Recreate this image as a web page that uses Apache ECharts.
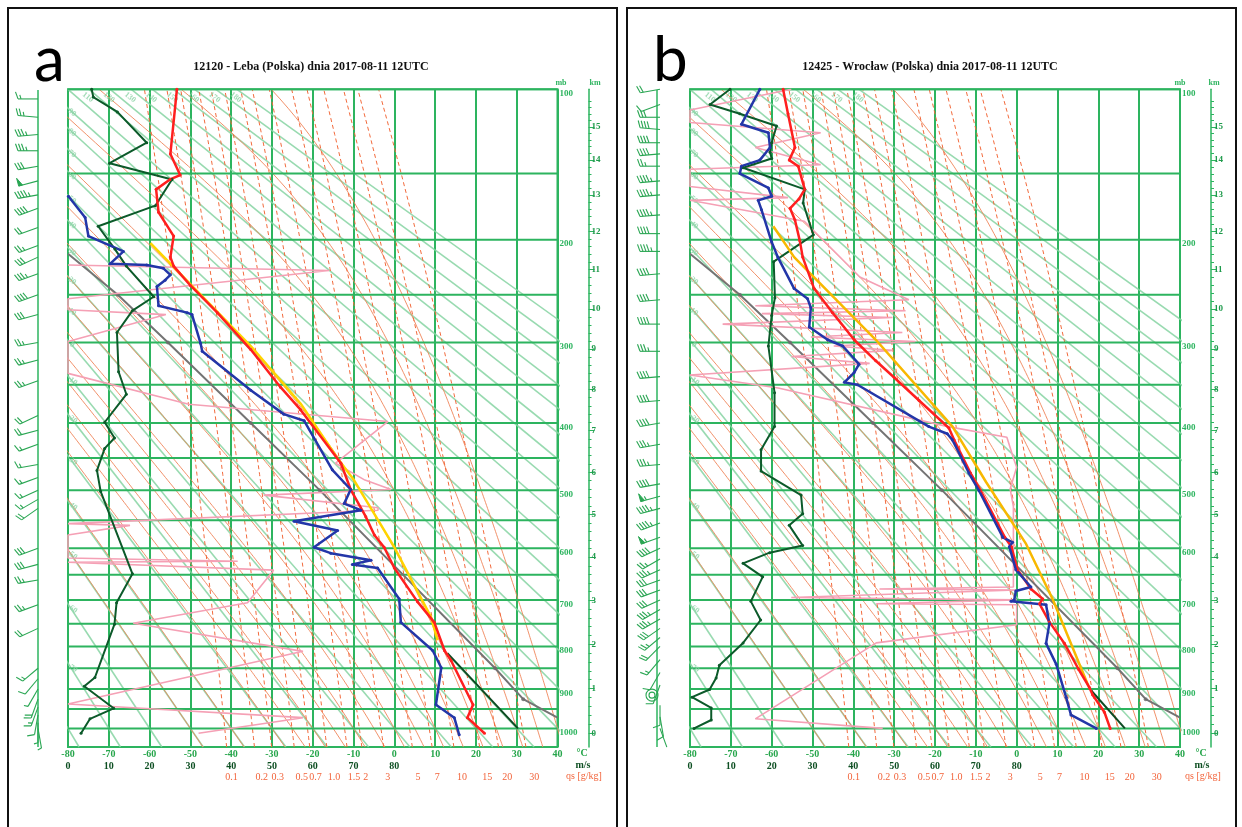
<!DOCTYPE html>
<html lang="pl">
<head>
<meta charset="UTF-8">
<title>Sondaże 2017-08-11 12UTC</title>
<script src="https://cdn.jsdelivr.net/npm/echarts@6.0.0/dist/echarts.min.js"></script>
<style>
  html, body { margin: 0; padding: 0; background: #fff; }
  #main { width: 1242px; height: 827px; }
</style>
</head>
<body>
<div id="main"></div>
<script>
// ---- diagram scales and tick labels
var isobarLevels = [100, 150, 200, 250, 300, 350, 400, 450, 500, 550, 600, 650, 700, 750, 800, 850, 900, 950, 1000];
var mbLabels = [100, 200, 300, 400, 500, 600, 700, 800, 900, 1000];
var kmLabels = [0, 1, 2, 3, 4, 5, 6, 7, 8, 9, 10, 11, 12, 13, 14, 15];
var windLabels = [0, 10, 20, 30, 40, 50, 60, 70, 80];
var qsLabels = ['0.1', '0.2', '0.3', '0.5', '0.7', '1.0', '1.5', '2', '3', '5', '7', '10', '15', '20', '30'];
var qsLabelTemp = [-39.9, -32.5, -28.6, -22.7, -19.3, -14.8, -9.9, -7.0, -1.6, 5.8, 10.5, 16.6, 22.8, 27.7, 34.3];
var mixingRatios = [0.1, 0.2, 0.3, 0.5, 0.7, 1, 1.5, 2, 3, 5, 7, 10, 15, 20, 30];
var moistStart = [-50, -40, -30, -25, -20, -15, -10, -5, 0, 5, 10, 15, 20, 25, 30, 35, 40];
var dryThetaTopLabels = [110, 120, 130, 140, 150, 160, 170, 180];
var dryThetaLeftLabels = [90, 80, 70, 60, 50, 40, 30, 20, 10, 0, -10, -20, -30, -40, -50, -60, -70];

// ---- 12120 Leba: [pressure hPa, value]
var lebaTemp = [[1013, 22.1], [972, 17.9], [939, 19.3], [832, 13.9], [809, 12.3], [747, 9.8], [704, 5.7], [637, 0.0], [598, -2.5], [576, -4.9], [544, -7.0], [499, -10.7], [458, -13.1], [382, -23.0], [353, -27.9], [308, -35.2], [268, -43.4], [241, -50.0], [223, -54.1], [215, -54.9], [197, -54.1], [178, -57.8], [161, -58.4], [154, -55.0], [151, -52.5], [137, -54.9], [100, -53.3]];
var lebaDew = [[1017, 15.9], [972, 14.7], [939, 10.2], [849, 11.5], [809, 9.4], [747, 1.6], [698, 1.2], [637, -4.1], [630, -10.3], [622, -5.7], [609, -15.6], [598, -19.7], [568, -13.9], [552, -24.6], [533, -8.2], [522, -12.3], [499, -10.7], [468, -15.2], [397, -22.1], [388, -27.1], [357, -35.2], [310, -47.1], [301, -47.5], [270, -49.6], [268, -50.8], [261, -57.8], [242, -58.2], [236, -56.2], [231, -54.9], [225, -56.6], [222, -60.7], [221, -69.7], [210, -66.4], [197, -75.0], [182, -75.8], [166, -79.9]];
var lebaParcel = [[786, 10.6], [736, 9.0], [598, 0.0], [484, -9.9], [450, -14.0], [374, -23.0], [304, -35.2], [203, -59.8]];
var lebaSurfaceAdiabat = [[1000, 30.3], [815, 13.0]];
var lebaWind = [[100, 5.8], [104, 6.2], [112, 12.1], [130, 19.3], [143, 10.2], [154, 25.5], [173, 21.4], [189, 7.4], [208, 11.5], [223, 14.3], [252, 21.0], [266, 15.8], [289, 12.0], [334, 12.4], [362, 14.3], [399, 9.0], [421, 11.4], [436, 9.0], [469, 7.1], [502, 8.0], [648, 15.8], [706, 11.9], [751, 11.4], [872, 6.6], [893, 4.0], [948, 11.2], [975, 5.4], [1013, 3.2]];
var lebaRh = [[222, 0], [227, 80], [254, 0], [265, 0], [270, 30], [299, 0], [336, 0], [375, 37], [398, 98], [458, 82], [484, 91], [499, 99], [508, 60], [529, 95], [533, 95], [556, 0], [559, 19], [576, 0], [618, 0], [624, 52], [626, 0], [641, 63], [706, 55], [749, 20], [811, 72], [937, 0], [972, 72], [1013, 40]];
// wind barbs: [pressure, direction deg, speed m/s]
var lebaBarbs = [[105, 270, 8], [115, 275, 12], [125, 265, 19], [135, 270, 18], [145, 260, 15], [155, 255, 25], [165, 260, 22], [175, 250, 20], [190, 250, 10], [205, 250, 12], [215, 245, 15], [230, 250, 18], [250, 250, 20], [270, 255, 16], [300, 260, 12], [320, 255, 13], [345, 250, 14], [390, 245, 10], [410, 255, 11], [430, 250, 9], [460, 260, 8], [480, 250, 7], [500, 245, 8], [515, 240, 9], [530, 235, 10], [600, 250, 15], [630, 255, 15], [660, 260, 13], [710, 250, 12], [760, 245, 11], [850, 230, 7], [875, 220, 5], [900, 210, 4], [925, 200, 10], [945, 200, 8], [965, 190, 5], [985, 180, 4], [1000, 170, 3]];

// ---- 12425 Wroclaw
var wroTemp = [[1000, 22.9], [958, 21.5], [914, 18.6], [896, 17.8], [853, 15.2], [793, 11.7], [746, 8.0], [708, 5.6], [698, 6.4], [678, 3.5], [640, 0.2], [597, -1.3], [580, -2.9], [501, -8.8], [473, -11.3], [424, -15.3], [407, -16.6], [370, -23.9], [341, -30.0], [321, -34.5], [297, -39.8], [268, -45.1], [244, -49.6], [215, -52.4], [201, -53.1], [184, -54.3], [175, -55.5], [168, -53.3], [161, -51.9], [145, -53.5], [141, -55.7], [133, -54.3], [113, -56.0], [100, -57.2]];
var wroDew = [[1000, 19.5], [965, 13.3], [920, 12.1], [841, 9.7], [793, 7.2], [750, 8.0], [710, 7.2], [703, -1.4], [700, -0.6], [682, -0.2], [674, 3.5], [640, -0.2], [597, -1.8], [589, -1.0], [580, -3.4], [501, -9.2], [473, -11.7], [424, -15.7], [415, -17.0], [405, -21.5], [350, -39.0], [347, -42.2], [335, -39.8], [325, -38.6], [304, -42.6], [297, -46.3], [283, -50.8], [263, -50.4], [254, -51.2], [244, -54.5], [215, -58.5], [202, -60.0], [176, -62.5], [169, -63.3], [166, -60.0], [160, -60.8], [150, -67.8], [145, -67.4], [141, -62.9], [133, -60.4], [124, -60.8], [119, -67.4], [100, -62.9]];
var wroParcel = [[893, 17.6], [698, 8.8], [592, 2.3], [487, -7.5], [405, -15.7], [297, -34.5], [215, -54.5], [189, -59.6]];
var wroSurfaceAdiabat = [[1000, 26.5], [903, 18.2]];
var wroWind = [[100, 9.8], [108, 4.9], [113, 12.2], [120, 21.2], [130, 20.0], [136, 19.6], [140, 20.0], [146, 13.0], [161, 28.1], [171, 27.7], [196, 30.2], [219, 20.5], [253, 20.8], [271, 20.0], [304, 19.2], [360, 20.7], [405, 20.7], [438, 17.4], [470, 17.4], [508, 27.2], [539, 27.6], [559, 24.3], [595, 27.6], [608, 19.5], [628, 13.0], [654, 17.8], [703, 14.9], [742, 17.3], [792, 13.0], [843, 7.2], [873, 6.4], [901, 4.8], [920, 0.5], [947, 5.2], [978, 5.2], [1000, 1.0]];
var wroRh = [[100, 31], [111, 0], [118, 0], [124, 40], [133, 20], [144, 40], [147, 0], [159, 0], [167, 30], [169, 0], [185, 35], [233, 52], [255, 67], [261, 20], [266, 66], [269, 22], [273, 62], [280, 10], [289, 65], [294, 37], [299, 69], [304, 44], [309, 62], [316, 31], [324, 55], [338, 0], [354, 27], [405, 79], [420, 97], [450, 99], [464, 100], [498, 98], [527, 99], [674, 99], [678, 58], [680, 100], [695, 31], [700, 100], [708, 57], [710, 100], [752, 100], [792, 57], [975, 20], [1000, 59]];
var wroBarbs = [[100, 260, 10], [108, 250, 5], [115, 270, 15], [122, 275, 20], [130, 270, 20], [137, 265, 20], [145, 270, 13], [155, 265, 22], [165, 265, 23], [180, 265, 22], [195, 270, 20], [210, 270, 22], [230, 265, 20], [255, 265, 21], [280, 270, 20], [310, 270, 19], [340, 265, 20], [370, 265, 21], [400, 260, 21], [430, 260, 18], [460, 265, 17], [490, 260, 20], [510, 255, 27], [530, 255, 22], [555, 250, 24], [580, 250, 27], [600, 245, 20], [620, 240, 13], [640, 245, 17], [660, 250, 16], [680, 250, 15], [700, 245, 15], [720, 240, 17], [740, 240, 17], [760, 235, 15], [780, 230, 13], [800, 225, 10], [830, 220, 7], [860, 210, 6], [890, 200, 5], [915, 0, 0.5], [940, 180, 5], [970, 170, 5], [1000, 160, 1]];

// reference line drawn in both diagrams: [pressure, temperature]
var greyLine = [[212, -80], [250, -67.8], [300, -55.5], [400, -35.2], [500, -18.3], [850, 24.7], [925, 31.6], [972, 40]];
var greyDots = [[250, -67.8], [300, -55.5], [400, -35.2], [500, -18.3], [850, 24.7], [925, 31.6]];

// ---- thermodynamics of the diagram background
var KAPPA = 0.286, P_TOP = 100, P_BOTTOM = 1050;
function pk(p) { return Math.pow(p, KAPPA); }
function pFromPk(v) { return Math.pow(v, 1 / KAPPA); }
function stdPressure(km) {
  var z = km * 1000;
  if (z <= 11000) return 1013.25 * Math.pow(1 - 2.25577e-5 * z, 5.25588);
  return 226.32 * Math.exp(-(z - 11000) / 6341.6);
}
function esat(t) { return 6.112 * Math.exp(17.67 * t / (t + 243.5)); }
function rsat(t, p) { var e = esat(t); return 0.622 * e / (p - e); }
function dTdp(t, p) {
  var T = t + 273.15, r = rsat(t, p);
  var Rd = 287.04, Lv = 2.501e6, cp = 1005.7;
  return (Rd * T + Lv * r) / (cp + Lv * Lv * r * 0.622 / (Rd * T * T)) / p;
}
function moistAdiabat(t0) {
  var up = [], t = t0, p = 1000, h = -5;
  up.push([t, pk(p)]);
  while (p > P_TOP) {
    var k1 = dTdp(t, p);
    var k2 = dTdp(t + k1 * h / 2, p + h / 2);
    t += k2 * h; p += h;
    up.push([t, pk(p)]);
  }
  t = t0; p = 1000;
  var down = [];
  while (p < P_BOTTOM) {
    var m1 = dTdp(t, p);
    var m2 = dTdp(t + m1 * 2.5, p + 2.5);
    t += m2 * 5; p += 5;
    down.unshift([t, pk(p)]);
  }
  return down.concat(up);
}
function mixingLine(w) {
  var out = [];
  for (var p = P_BOTTOM; p >= P_TOP; p -= 25) {
    var e = w * p / (622 + w);
    var l = Math.log(e / 6.112);
    out.push([243.5 * l / (17.67 - l), pk(p)]);
  }
  return out;
}
function dryAdiabat(thetaC) {
  var th = thetaC + 273.15;
  return [[th * Math.pow(P_TOP / 1000, KAPPA) - 273.15, pk(P_TOP)],
          [th * Math.pow(P_BOTTOM / 1000, KAPPA) - 273.15, pk(P_BOTTOM)]];
}
function toXY(rows) { return rows.map(function (r) { return [r[1], pk(r[0])]; }); }
function windXY(rows) { return rows.map(function (r) { return [r[1] - 80, pk(r[0])]; }); }
function rhXY(rows) { return rows.map(function (r) { return [-80 + r[1] * 0.8, pk(r[0])]; }); }
function nearest(list, v) {
  var best = 0;
  for (var i = 1; i < list.length; i++) if (Math.abs(list[i] - v) < Math.abs(list[best] - v)) best = i;
  return best;
}

var GREEN = '#2db45f', BARB = '#2aa653', SERIF = 'Liberation Serif';
var plotTop = 89.3, plotHeight = 657.7;
var kmPk = kmLabels.map(function (k) { return pk(stdPressure(k)); });
var kmMinorPk = [];
for (var z = 0; z <= 16.01; z += 0.2) {
  if (Math.abs(z - Math.round(z)) > 0.01) kmMinorPk.push(pk(stdPressure(z)));
}

function line(xi, yi, data, style, extra) {
  var s = { type: 'line', xAxisIndex: xi, yAxisIndex: yi, data: data, symbol: 'none', silent: true,
            animation: false, clip: true, lineStyle: style, z: 2 };
  for (var k in extra) s[k] = extra[k];
  return s;
}
function profile(xi, yi, data, color, width, dots) {
  return line(xi, yi, data, { color: color, width: width }, {
    symbol: dots ? 'circle' : 'none', symbolSize: 3, showSymbol: !!dots,
    itemStyle: { color: color }, z: 6
  });
}

// wind barbs hang to the left of the diagram, 30px off the -80 line
function barbs(xi, yi, rows) {
  return {
    type: 'custom', xAxisIndex: xi, yAxisIndex: yi, silent: true, animation: false, clip: false, z: 7,
    data: rows.map(function (r) { return [-80, pk(r[0]), r[1], r[2]]; }),
    renderItem: function (params, api) {
      var pt = api.coord([api.value(0), api.value(1)]);
      var x0 = pt[0] - 30, y0 = pt[1];
      var dir = api.value(2) * Math.PI / 180, spd = api.value(3);
      var st = { stroke: BARB, lineWidth: 1.1, fill: null };
      if (spd < 1) {
        return { type: 'group', children: [
          { type: 'circle', shape: { cx: x0 - 8, cy: y0, r: 6 }, style: st },
          { type: 'circle', shape: { cx: x0 - 8, cy: y0, r: 3 }, style: st }] };
      }
      var L = 20, sx = Math.sin(dir), sy = -Math.cos(dir);
      var fx = -sy, fy = sx;
      var kids = [{ type: 'line', shape: { x1: x0, y1: y0, x2: x0 + sx * L, y2: y0 + sy * L }, style: st }];
      var pos = L, rest = spd;
      function at(d) { return [x0 + sx * d, y0 + sy * d]; }
      while (rest >= 25) {
        var a = at(pos), b = at(pos - 4);
        kids.push({ type: 'polygon', shape: { points: [a, b, [a[0] + fx * 8, a[1] + fy * 8]] },
                    style: { fill: BARB, stroke: BARB, lineWidth: 1 } });
        rest -= 25; pos -= 6;
      }
      while (rest >= 4.5) {
        var c = at(pos);
        kids.push({ type: 'line', shape: { x1: c[0], y1: c[1], x2: c[0] + fx * 7 + sx * 2.5, y2: c[1] + fy * 7 + sy * 2.5 }, style: st });
        rest -= 5; pos -= 3;
      }
      if (rest >= 2) {
        var h = at(pos);
        kids.push({ type: 'line', shape: { x1: h[0], y1: h[1], x2: h[0] + fx * 4 + sx * 1.2, y2: h[1] + fy * 4 + sy * 1.2 }, style: st });
      }
      return { type: 'group', children: kids };
    }
  };
}

function panel(i, left, width, st) {
  var xi = i * 3, yi = i * 4;
  var lab = { fontFamily: SERIF, fontWeight: 'bold', fontSize: 10 };
  var grid = { left: left, top: plotTop, width: width, height: plotHeight, show: true,
               borderColor: GREEN, borderWidth: 2, backgroundColor: 'rgba(0,0,0,0)' };
  var xAxes = [
    { gridIndex: i, type: 'value', min: -80, max: 40, interval: 10, position: 'bottom',
      axisLine: { show: false, onZero: false }, axisTick: { show: false },
      axisLabel: Object.assign({ margin: 2, color: '#27a64c', showMinLabel: true, showMaxLabel: true }, lab),
      splitLine: { show: true, lineStyle: { color: GREEN, width: 2 } } },
    { gridIndex: i, type: 'value', min: -80, max: 40, position: 'bottom', offset: 12,
      axisLine: { show: false, onZero: false }, axisTick: { show: false }, splitLine: { show: false },
      axisLabel: Object.assign({ margin: 2, color: '#0d4f22',
        customValues: windLabels.map(function (s) { return s - 80; }),
        formatter: function (v) { return String(Math.round(v + 80)); } }, lab) },
    { gridIndex: i, type: 'value', min: -80, max: 40, position: 'bottom', offset: 23,
      axisLine: { show: false, onZero: false }, axisTick: { show: false }, splitLine: { show: false },
      axisLabel: { margin: 2, color: '#f2633a', fontFamily: SERIF, fontSize: 10,
        customValues: qsLabelTemp,
        formatter: function (v) { return qsLabels[nearest(qsLabelTemp, v)]; } } }
  ];
  var yBase = { gridIndex: i, type: 'value', min: pk(P_TOP), max: pk(P_BOTTOM), inverse: true, splitLine: { show: false } };
  var yAxes = [
    Object.assign({ show: false }, yBase),
    Object.assign({}, yBase, { position: 'right', axisLine: { show: false, onZero: false }, axisTick: { show: false },
      axisLabel: { margin: 2, color: GREEN, fontFamily: SERIF, fontWeight: 'bold', fontSize: 9, verticalAlign: 'top',
        customValues: mbLabels.map(pk), formatter: function (v) { return String(Math.round(pFromPk(v))); } } }),
    Object.assign({}, yBase, { position: 'right', offset: 31,
      axisLine: { show: true, onZero: false, lineStyle: { color: GREEN, width: 1.5 } },
      axisTick: { show: true, customValues: kmPk, length: 6, lineStyle: { color: GREEN } },
      axisLabel: { margin: 3, color: '#1e9a4b', fontFamily: SERIF, fontWeight: 'bold', fontSize: 9,
        customValues: kmPk, formatter: function (v) { return String(kmLabels[nearest(kmPk, v)]); } } }),
    Object.assign({}, yBase, { position: 'right', offset: 31, axisLine: { show: false, onZero: false },
      axisTick: { show: true, customValues: kmMinorPk, length: 3, lineStyle: { color: GREEN } },
      axisLabel: { show: false } })
  ];

  var series = [];
  for (var th = -80; th <= 180; th += 10) {
    series.push(line(xi, yi, dryAdiabat(th), { color: '#86d3a2', width: 1.6, opacity: 0.85 }, { z: 1 }));
  }
  moistStart.forEach(function (t0) {
    series.push(line(xi, yi, moistAdiabat(t0), { color: '#f0855a', width: 1, opacity: 0.9 }, { z: 1 }));
  });
  mixingRatios.forEach(function (w) {
    series.push(line(xi, yi, mixingLine(w), { color: '#f26a3c', width: 1, type: [4, 3] }, { z: 1 }));
  });
  isobarLevels.forEach(function (p) {
    series.push(line(xi, yi, [[-80, pk(p)], [40, pk(p)]], { color: GREEN, width: 2 }, { z: 3 }));
  });
  var thLabels = [];
  dryThetaTopLabels.forEach(function (t) {
    thLabels.push({ value: [dryAdiabat(t)[0][0], pk(P_TOP)], name: String(t), label: { offset: [4, 7] } });
  });
  dryThetaLeftLabels.forEach(function (t) {
    var pp = 1000 * Math.pow(193.15 / (t + 273.15), 1 / KAPPA);
    thLabels.push({ value: [-80, pk(pp)], name: String(t), label: { offset: [6, 1] } });
  });
  series.push({ type: 'scatter', xAxisIndex: xi, yAxisIndex: yi, data: thLabels, symbolSize: 0, silent: true,
    animation: false, z: 4,
    label: { show: true, position: 'inside', formatter: '{b}', rotate: -38, color: '#8ad2a4',
      fontSize: 8, fontWeight: 'bold', fontFamily: SERIF } });

  series.push(line(xi, yi, toXY(greyLine), { color: '#747474', width: 2 }, { z: 5 }));
  series.push({ type: 'scatter', xAxisIndex: xi, yAxisIndex: yi, data: toXY(greyDots), symbolSize: 4,
    itemStyle: { color: '#6a6a6a' }, silent: true, animation: false, z: 5 });

  series.push(profile(xi, yi, rhXY(st.rh), '#f5a0b5', 1.6, false));
  series.push(profile(xi, yi, windXY(st.wind), '#0c5a2a', 2, true));
  series.push(profile(xi, yi, toXY(st.sfc), '#0c4a22', 2, false));
  series.push(profile(xi, yi, toXY(st.parcel), st.parcelColor, 2.5, false));
  series.push(profile(xi, yi, toXY(st.temp), '#ff1f1f', 2.5, true));
  series.push(profile(xi, yi, toXY(st.dew), '#2336a8', 2.5, true));
  series.push(barbs(xi, yi, st.barbs));

  return { grid: grid, xAxes: xAxes, yAxes: yAxes, series: series };
}

var pa = panel(0, 68, 489.5, { temp: lebaTemp, dew: lebaDew, parcel: lebaParcel, sfc: lebaSurfaceAdiabat, wind: lebaWind, rh: lebaRh, barbs: lebaBarbs, parcelColor: '#ffd400' });
var pb = panel(1, 690, 490, { temp: wroTemp, dew: wroDew, parcel: wroParcel, sfc: wroSurfaceAdiabat, wind: wroWind, rh: wroRh, barbs: wroBarbs, parcelColor: '#f8b800' });

function panelTexts(dx, title, letter) {
  return [
    { type: 'rect', shape: { x: 8 + dx, y: 8, width: 609, height: 840 }, style: { fill: 'none', stroke: '#111', lineWidth: 2 } },
    { type: 'text', style: { text: letter, x: 34 + dx, y: 92, font: '62px Lato', fill: '#000', textVerticalAlign: 'bottom' } },
    { type: 'text', style: { text: title, x: 311 + dx, y: 67, font: 'bold 12px "Liberation Serif"', fill: '#111', textAlign: 'center', textVerticalAlign: 'middle' } },
    { type: 'text', style: { text: 'mb', x: 561 + dx, y: 83, font: 'bold 8px "Liberation Serif"', fill: GREEN, textAlign: 'center', textVerticalAlign: 'middle' } },
    { type: 'text', style: { text: 'km', x: 595 + dx, y: 83, font: 'bold 8px "Liberation Serif"', fill: GREEN, textAlign: 'center', textVerticalAlign: 'middle' } },
    { type: 'text', style: { text: '°C', x: 582 + dx, y: 753, font: 'bold 10px "Liberation Serif"', fill: '#27a64c', textAlign: 'center', textVerticalAlign: 'middle' } },
    { type: 'text', style: { text: 'm/s', x: 583 + dx, y: 765, font: 'bold 10px "Liberation Serif"', fill: '#0d4f22', textAlign: 'center', textVerticalAlign: 'middle' } },
    { type: 'text', style: { text: 'qs [g/kg]', x: 584 + dx, y: 776, font: '10px "Liberation Serif"', fill: '#f2633a', textAlign: 'center', textVerticalAlign: 'middle' } },
    { type: 'line', shape: { x1: 38 + dx, y1: 90, x2: 38 + dx, y2: 747 }, style: { stroke: GREEN, lineWidth: 1.5 } }
  ];
}

var chart = echarts.init(document.getElementById('main'), null, { renderer: 'canvas' });
chart.setOption({
  animation: false,
  backgroundColor: '#fff',
  grid: [pa.grid, pb.grid],
  xAxis: pa.xAxes.concat(pb.xAxes),
  yAxis: pa.yAxes.concat(pb.yAxes),
  series: pa.series.concat(pb.series),
  graphic: panelTexts(0, '12120 - Leba (Polska) dnia 2017-08-11 12UTC', 'a')
    .concat(panelTexts(619, '12425 - Wrocław (Polska) dnia 2017-08-11 12UTC', 'b'))
});
</script>
</body>
</html>
